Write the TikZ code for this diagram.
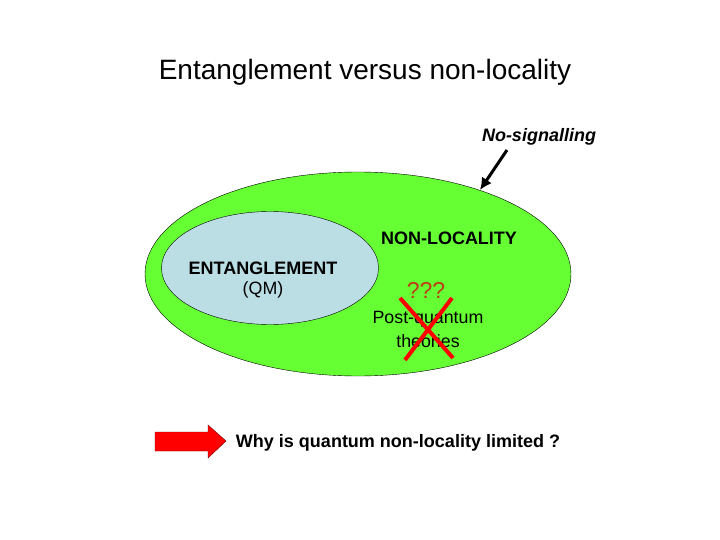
\documentclass[tikz,border=0pt]{standalone}
\usepackage{fontspec}
\setmainfont{Liberation Sans}
\usetikzlibrary{shapes.geometric,arrows.meta}
\begin{document}
\begin{tikzpicture}[x=1pt,y=-1pt,
  lbl/.style={inner sep=0pt,anchor=center,font=\fontsize{17.8}{20}\selectfont},
  bl/.style={lbl,font=\fontsize{18}{20}\selectfont\bfseries}]
\useasboundingbox (0,0) rectangle (720,540);
\node[draw=black,fill={rgb,255:red,102;green,255;blue,51},ellipse,minimum width=426,minimum height=204,inner sep=0pt] (outer) at (358,274) {};
\node[draw=black,fill={rgb,255:red,187;green,221;blue,228},ellipse,minimum width=217,minimum height=113,inner sep=0pt] (inner) at (270,268) {};
\node[lbl,font=\fontsize{28}{32}\selectfont] (title) at (365,72) {Entanglement versus non-locality};
\node[bl,font=\fontsize{18}{20}\selectfont\bfseries\itshape] (ns) at (539,137) {No-signalling};
\coordinate (nsa) at (507,150);
\coordinate (nsb) at (480,190);
\draw[line width=3pt,-{Latex[length=12pt,width=12pt]}] (nsa) -- (nsb);
\node[bl] (nl) at (449,238) {NON-LOCALITY};
\node[bl] (ent) at (263,268) {ENTANGLEMENT};
\node[lbl] (qm) at (263,290) {(QM)};
\node[lbl,font=\fontsize{23}{26}\selectfont,text={rgb,255:red,190;green,60;blue,20}] (q) at (426,290) {???};
\node[lbl] (pq) at (428,319) {Post-quantum};
\node[lbl] (th) at (428,341) {theories};
\coordinate (x1) at (405,360); \coordinate (x2) at (452,298);
\coordinate (x3) at (400,298); \coordinate (x4) at (453,358);
\draw[red,line width=4pt] (x1) -- (x2) (x3) -- (x4);
\node[bl] (why) at (398,443) {Why is quantum non-locality limited ?};
\draw[fill=red,draw={rgb,255:red,120;green,0;blue,0}] (155,432) -- (208,432) -- (208,425) -- (226,441) -- (208,458) -- (208,451) -- (155,451) -- cycle;
\end{tikzpicture}
\end{document}
